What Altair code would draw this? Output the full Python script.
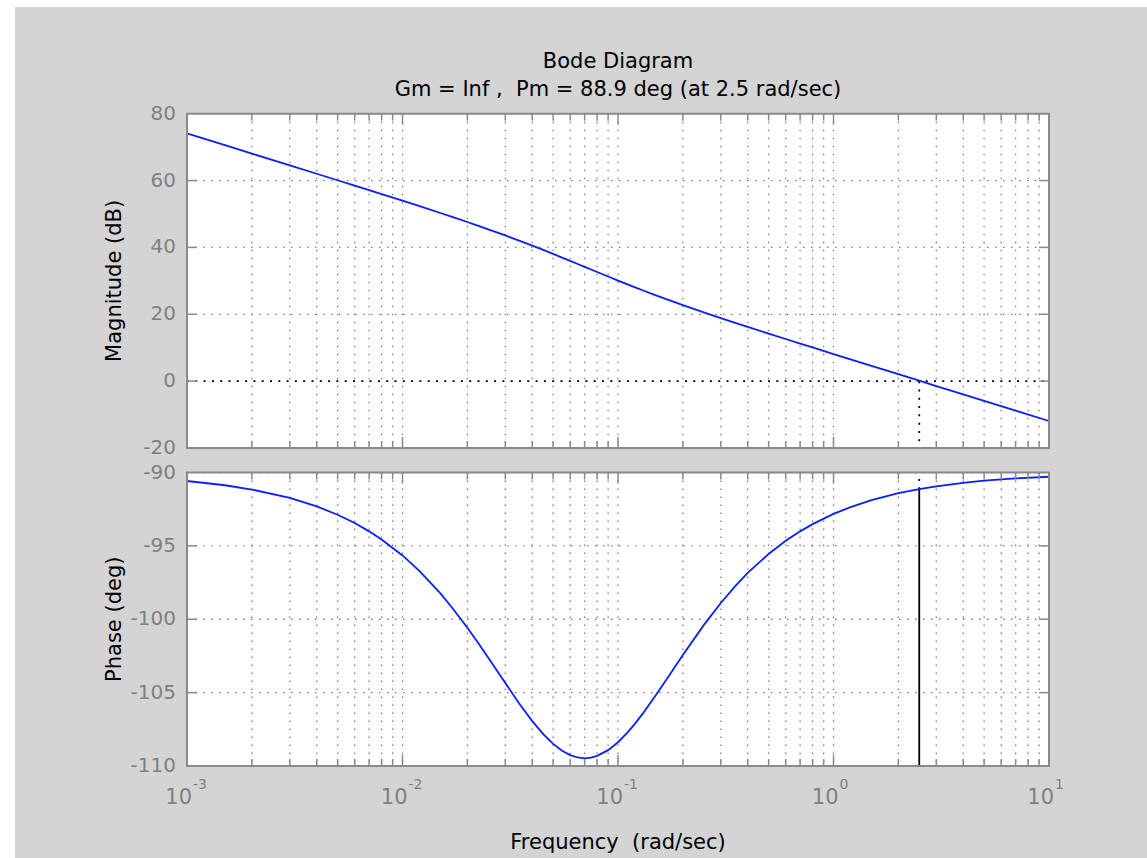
import altair as alt
import pandas as pd

# ---------------- data ----------------
FREQ = [0.001, 0.0015, 0.002, 0.003, 0.004, 0.005, 0.006, 0.007, 0.008, 0.01,
        0.012, 0.015, 0.017, 0.02, 0.0225, 0.025, 0.03, 0.035, 0.04, 0.045,
        0.05, 0.055, 0.06, 0.065, 0.07, 0.075, 0.08, 0.09, 0.1, 0.11,
        0.12, 0.13, 0.15, 0.17, 0.2, 0.25, 0.3, 0.35, 0.4, 0.5,
        0.6, 0.7, 0.8, 1.0, 1.2, 1.5, 2.0, 2.5, 3.0, 4.0,
        5.0, 7.0, 10.0]
MAG_DB = [74.10, 70.58, 68.07, 64.55, 62.04, 60.09, 58.49, 57.14, 55.96, 53.97,
          52.34, 50.30, 49.13, 47.60, 46.46, 45.42, 43.58, 41.97, 40.54, 39.24,
          38.06, 36.97, 35.97, 35.04, 34.19, 33.39, 32.64, 31.29, 30.07, 29.02,
          28.07, 27.19, 25.68, 24.39, 22.76, 20.56, 18.88, 17.44, 16.22, 14.22,
          12.61, 11.25, 10.07, 8.11, 6.52, 4.57, 2.07, 0.13, -1.46, -3.96,
          -5.90, -8.82, -11.92]
PHASE_DEG = [-90.58, -90.87, -91.16, -91.73, -92.31, -92.88, -93.44, -94.01, -94.56, -95.65,
             -96.72, -98.24, -99.22, -100.58, -101.64, -102.62, -104.35, -105.79, -106.94, -107.83,
             -108.49, -108.96, -109.26, -109.42, -109.48, -109.43, -109.31, -108.92, -108.38, -107.76,
             -107.11, -106.45, -105.16, -103.99, -102.44, -100.40, -98.89, -97.74, -96.84, -95.55,
             -94.65, -94.01, -93.52, -92.82, -92.36, -91.89, -91.41, -91.14, -90.94, -90.71,
             -90.56, -90.40, -90.29]

MAG_TICKS = [80, 60, 40, 20, 0, -20]
MAG_LABELS = ["80", "60", "40", "20", "0", "-20"]
PHASE_TICKS = [-90, -95, -100, -105, -110]
PHASE_LABELS = ["-90", "-95", "-100", "-105", "-110"]
DECADES = [0.001, 0.01, 0.1, 1.0, 10.0]
DECADE_EXP = ["-3", "-2", "-1", "0", "1"]
MINOR = [round(k * 10.0 ** e, 6) for e in range(-3, 1) for k in range(2, 10)]
WCP = 2.5
PHASE_AT_WCP = -91.14
NB = "\u00a0"
TITLE_LINES = ["Bode Diagram", "Gm = Inf ," + NB + NB + "Pm = 88.9 deg (at 2.5 rad/sec)"]
X_TITLE = "Frequency" + NB + NB + "(rad/sec)"
MAG_TITLE = "Magnitude (dB)"
PHASE_TITLE = "Phase (deg)"

# ---------------- layout / style ----------------
W, H = 1147, 858
PX_L, PX_R = 187, 1049
MAG_TOP, MAG_BOT = 113.7, 448
PH_TOP, PH_BOT = 472.5, 766
FONT = "DejaVu Sans"
BG = "#d4d4d4"
FRAME = "#8a8a8a"
GRID = "#7d7d7d"
LABEL = "#808080"
BLUE = "#0a1eff"

xs = alt.Scale(type="log", domain=[0.001, 10], range=[PX_L, PX_R], nice=False)
ys_mag = alt.Scale(domain=[-20, 80], range=[MAG_BOT, MAG_TOP], nice=False, zero=False)
ys_ph = alt.Scale(domain=[-110, -90], range=[PH_BOT, PH_TOP], nice=False, zero=False)


def X(f):
    return alt.X(f, type="quantitative", scale=xs, axis=None)


def Y(f, sc):
    return alt.Y(f, type="quantitative", scale=sc, axis=None)


def vgrid(top, bot):
    df = pd.DataFrame({"f": MINOR + [0.01, 0.1, 1.0]})
    return alt.Chart(df).mark_rule(color=GRID, strokeWidth=1.3, strokeDash=[1.5, 6.5]).encode(
        x=X("f"), y=alt.value(top), y2=alt.value(bot))


def hgrid(vals, sc):
    df = pd.DataFrame({"v": vals})
    return alt.Chart(df).mark_rule(color=GRID, strokeWidth=1.3, strokeDash=[1.5, 6.5]).encode(
        y=Y("v", sc), x=alt.value(PX_L), x2=alt.value(PX_R))


def xticks(vals, y0, y1):
    df = pd.DataFrame({"f": vals})
    return alt.Chart(df).mark_rule(color=FRAME, strokeWidth=1.5).encode(
        x=X("f"), y=alt.value(y0), y2=alt.value(y1))


def yticks(vals, sc):
    df = pd.DataFrame({"v": vals})
    left = alt.Chart(df).mark_rule(color=FRAME, strokeWidth=1.5).encode(
        y=Y("v", sc), x=alt.value(PX_L), x2=alt.value(PX_L + 10))
    right = alt.Chart(df).mark_rule(color=FRAME, strokeWidth=1.5).encode(
        y=Y("v", sc), x=alt.value(PX_R - 10), x2=alt.value(PX_R))
    return [left, right]


def all_xticks(top, bot):
    return [xticks(DECADES, bot, bot - 11), xticks(MINOR, bot, bot - 7),
            xticks(DECADES, top, top + 11), xticks(MINOR, top, top + 7)]


def panel_rect(lo, hi, sc, filled):
    df = pd.DataFrame({"x1": [0.001], "x2": [10.0], "y1": [lo], "y2": [hi]})
    if filled:
        mk = alt.Chart(df).mark_rect(fill="white", strokeWidth=0)
    else:
        mk = alt.Chart(df).mark_rect(fillOpacity=0, stroke=FRAME, strokeWidth=2)
    return mk.encode(x=X("x1"), x2="x2", y=Y("y1", sc), y2="y2")


def ylabels(vals, labels, sc):
    df = pd.DataFrame({"v": vals, "t": labels})
    return alt.Chart(df).mark_text(align="right", baseline="middle", font=FONT,
                                   fontSize=20, color=LABEL).encode(
        y=Y("v", sc), x=alt.value(176), text="t:N")


# ---------------- magnitude panel ----------------
mag_df = pd.DataFrame({"f": FREQ, "m": MAG_DB})
mag_layers = [
    panel_rect(-20, 80, ys_mag, True),
    vgrid(MAG_TOP, MAG_BOT),
    hgrid([v for v in MAG_TICKS if v != 0], ys_mag),
    alt.Chart(pd.DataFrame({"v": [0]})).mark_rule(color="black", strokeWidth=1.8, strokeDash=[2, 6.3]).encode(
        y=Y("v", ys_mag), x=alt.value(PX_L), x2=alt.value(PX_R)),
    alt.Chart(pd.DataFrame({"f": [WCP], "a": [0], "b": [-20]})).mark_rule(
        color="black", strokeWidth=1.8, strokeDash=[2, 6.3]).encode(
        x=X("f"), y=Y("a", ys_mag), y2="b"),
    alt.Chart(mag_df).mark_line(color=BLUE, strokeWidth=1.8).encode(x=X("f"), y=Y("m", ys_mag)),
] + all_xticks(MAG_TOP, MAG_BOT) + yticks([60, 40, 20, 0], ys_mag) + [
    panel_rect(-20, 80, ys_mag, False),
    ylabels(MAG_TICKS, MAG_LABELS, ys_mag),
]
mag = alt.layer(*mag_layers)

# ---------------- phase panel ----------------
ph_df = pd.DataFrame({"f": FREQ, "p": PHASE_DEG})
dec_df = pd.DataFrame({"f": DECADES, "e": DECADE_EXP, "b": ["10"] * len(DECADES)})
ph_layers = [
    panel_rect(-110, -90, ys_ph, True),
    vgrid(PH_TOP, PH_BOT),
    hgrid(PHASE_TICKS, ys_ph),
    alt.Chart(pd.DataFrame({"f": [WCP], "a": [-110], "b": [PHASE_AT_WCP]})).mark_rule(
        color="black", strokeWidth=1.8).encode(x=X("f"), y=Y("a", ys_ph), y2="b"),
    alt.Chart(pd.DataFrame({"f": [WCP], "a": [PHASE_AT_WCP], "b": [-90]})).mark_rule(
        color="black", strokeWidth=1.8, strokeDash=[2, 6.3]).encode(x=X("f"), y=Y("a", ys_ph), y2="b"),
    alt.Chart(ph_df).mark_line(color=BLUE, strokeWidth=1.8).encode(x=X("f"), y=Y("p", ys_ph)),
] + all_xticks(PH_TOP, PH_BOT) + yticks([-95, -100, -105], ys_ph) + [
    panel_rect(-110, -90, ys_ph, False),
    ylabels(PHASE_TICKS, PHASE_LABELS, ys_ph),
    alt.Chart(dec_df).mark_text(align="right", baseline="middle", dx=5, font=FONT,
                                fontSize=21, color=LABEL).encode(
        x=X("f"), y=alt.value(798), text="b:N"),
    alt.Chart(dec_df).mark_text(align="left", baseline="middle", dx=6, font=FONT,
                                fontSize=14, color=LABEL).encode(
        x=X("f"), y=alt.value(785), text="e:N"),
]
ph = alt.layer(*ph_layers)

# ---------------- chrome: window strips and titles ----------------
one = pd.DataFrame({"k": [0]})
strips = [
    alt.Chart(one).mark_rect(color="white").encode(
        x=alt.value(0), x2=alt.value(15), y=alt.value(0), y2=alt.value(H)),
    alt.Chart(one).mark_rect(color="white").encode(
        x=alt.value(0), x2=alt.value(W), y=alt.value(0), y2=alt.value(7)),
]
CX = (PX_L + PX_R) / 2
titles = [
    alt.Chart(pd.DataFrame({"t": [TITLE_LINES[0]]})).mark_text(
        align="center", baseline="middle", font=FONT, fontSize=21, color="black").encode(
        x=alt.value(CX), y=alt.value(62), text="t:N"),
    alt.Chart(pd.DataFrame({"t": [TITLE_LINES[1]]})).mark_text(
        align="center", baseline="middle", font=FONT, fontSize=21, color="black").encode(
        x=alt.value(CX), y=alt.value(90), text="t:N"),
    alt.Chart(pd.DataFrame({"t": [X_TITLE]})).mark_text(
        align="center", baseline="middle", font=FONT, fontSize=21, color="black").encode(
        x=alt.value(CX), y=alt.value(843), text="t:N"),
    alt.Chart(pd.DataFrame({"t": [MAG_TITLE]})).mark_text(
        align="center", baseline="middle", angle=270, font=FONT, fontSize=21, color="black").encode(
        x=alt.value(115), y=alt.value((MAG_TOP + MAG_BOT) / 2), text="t:N"),
    alt.Chart(pd.DataFrame({"t": [PHASE_TITLE]})).mark_text(
        align="center", baseline="middle", angle=270, font=FONT, fontSize=21, color="black").encode(
        x=alt.value(115), y=alt.value((PH_TOP + PH_BOT) / 2), text="t:N"),
]

chart = alt.layer(*strips, *titles, mag, ph).resolve_scale(y="independent").properties(
    width=W, height=H, padding=0, background="white",
    autosize=alt.AutoSizeParams(type="none"),
).configure_view(fill=BG, stroke="transparent")

chart.save("out.html", embed_options={"renderer": "svg", "actions": False})
